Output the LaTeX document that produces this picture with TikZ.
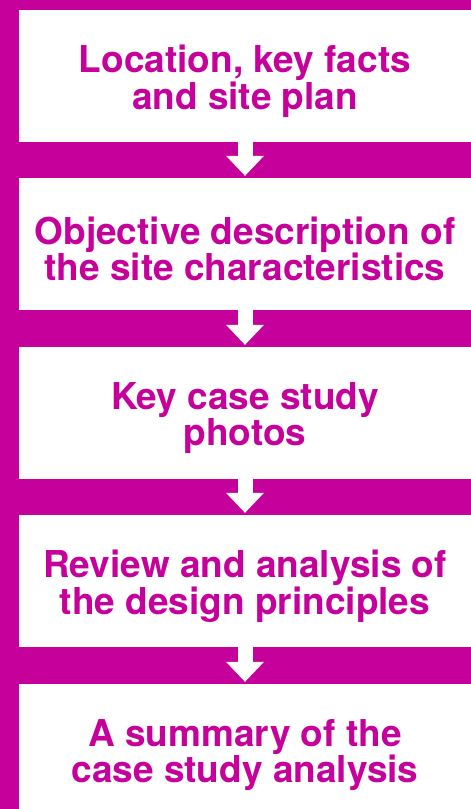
\documentclass[tikz,border=0pt]{standalone}
\usepackage{fontspec}
\setmainfont{TeX Gyre Heros}
\usepackage{xcolor}
\definecolor{mMagenta}{RGB}{198,0,155}
\usetikzlibrary{positioning,arrows.meta}

\begin{document}
\begin{tikzpicture}[x=1pt, y=-1pt,
  sb/.style={fill=white, inner sep=0pt, minimum width=452pt, minimum height=132pt},
  st/.style={inner sep=0pt, align=center, text=mMagenta, font=\fontsize{37}{34}\selectfont\bfseries},
  dn/.style={white, line width=15pt, shorten >=2pt, -{Triangle[width=38pt, length=20pt, line width=0pt]}}]
\fill[mMagenta] (0,0) rectangle (471,809);
\clip (0,0) rectangle (471,809);
\node[sb] (s1) at (245,76) {};
\node[sb] (s2) at (245,244) {};
\node[sb] (s3) at (245,413) {};
\node[sb] (s4) at (245,581) {};
\node[sb] (s5) at (245,750) {};
\node[st] (t1) at ([yshift=-5pt]s1.center) {Location, key facts\\and site plan};
\node[st] (t2) at ([yshift=-5pt]s2.center) {Objective description of\\the site characteristics};
\node[st] (t3) at ([yshift=-5pt]s3.center) {Key case study\\photos};
\node[st] (t4) at ([yshift=-5pt]s4.center) {Review and analysis of\\the design principles};
\node[st] (t5) at ([yshift=-5pt]s5.center) {A summary of the\\case study analysis};
\draw[dn] (s1) -- (s2);
\draw[dn] (s2) -- (s3);
\draw[dn] (s3) -- (s4);
\draw[dn] (s4) -- (s5);
\end{tikzpicture}
\end{document}
